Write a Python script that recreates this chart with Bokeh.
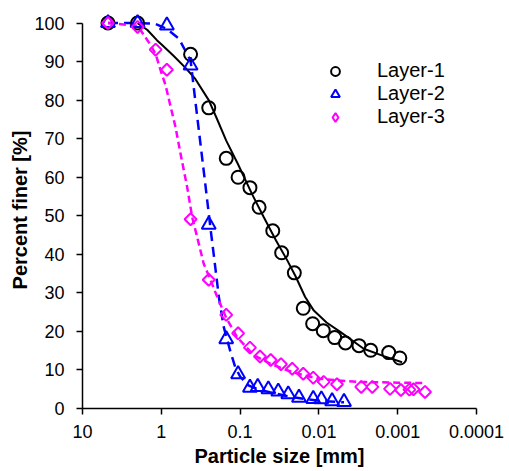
import numpy as np
from bokeh.plotting import figure
from bokeh.models import Range1d, FixedTicker, Legend, LegendItem
from bokeh.embed import file_html
from bokeh.resources import INLINE

# ---- measured data (particle size in mm, percent finer) ----
l1_size = [4.75, 2.0, 0.425, 0.25, 0.15, 0.106, 0.075, 0.0574, 0.0385, 0.0297, 0.0205,
           0.0158, 0.012, 0.0088, 0.0063, 0.0046, 0.0031, 0.0022, 0.0013, 0.00094]
l1_pf = [100, 100, 91.9, 78.0, 64.9, 60.0, 57.3, 52.2, 46.1, 40.4, 35.2,
         26.0, 22.0, 20.2, 18.4, 17.0, 16.3, 15.1, 14.5, 13.1]

l2_size = [4.75, 2.0, 0.85, 0.425, 0.25, 0.15, 0.106, 0.075, 0.0597, 0.0438, 0.0328,
           0.0245, 0.0179, 0.0118, 0.0093, 0.0068, 0.0048]
l2_pf = [100, 100, 99.4, 89.0, 47.7, 18.0, 8.9, 5.4, 5.6, 5.0, 4.4,
         3.7, 2.8, 2.5, 2.4, 1.9, 1.7]

l3_size = [4.75, 2.0, 1.18, 0.85, 0.425, 0.25, 0.15, 0.106, 0.075, 0.0559, 0.0409,
           0.0303, 0.0218, 0.0158, 0.0118, 0.0087, 0.0059, 0.0029, 0.0021, 0.00125,
           0.00091, 0.00071, 0.00063, 0.00045]
l3_pf = [100, 99.0, 93.1, 87.9, 49.1, 33.4, 24.3, 19.5, 15.8, 13.5, 12.6,
         11.5, 10.3, 9.0, 8.0, 6.9, 6.3, 5.6, 5.6, 5.1, 4.8, 4.9, 5.0, 4.3]

# ---- fitted curves ----
fit1_size = [2.0, 1.5, 1.13, 1.0, 0.7, 0.5, 0.37, 0.25, 0.2, 0.15, 0.107, 0.07, 0.05,
             0.035, 0.025, 0.02, 0.015, 0.0116, 0.008, 0.0053, 0.0027, 0.0015, 0.00088]
fit1_pf = [100, 98.2, 95.5, 94.5, 91.5, 88.5, 85.5, 80.0, 75.5, 69.5, 63.5, 55.5, 49.6,
           43.6, 38.3, 34.5, 29.0, 25.4, 22.3, 19.8, 15.5, 13.6, 12.0]

fit2_size = [4.75, 2.0, 1.2, 0.85, 0.6, 0.425, 0.368, 0.318, 0.275, 0.238, 0.205, 0.186,
             0.161, 0.132, 0.115, 0.1, 0.0785, 0.06, 0.042, 0.025, 0.0157, 0.01, 0.0048]
fit2_pf = [100, 100, 99.8, 98.5, 96.0, 90.3, 79.4, 68.6, 57.8, 46.9, 36.1, 28.9,
           21.1, 14.6, 10.7, 8.3, 6.0, 5.0, 4.2, 3.2, 2.5, 2.0, 1.6]

fit3_size = [4.75, 2.0, 1.44, 1.18, 1.02, 0.88, 0.76, 0.66, 0.57, 0.469, 0.405, 0.35,
             0.289, 0.25, 0.2, 0.15, 0.109, 0.067, 0.041, 0.0252, 0.0156, 0.00955,
             0.00586, 0.003, 0.001, 0.00045]
fit3_pf = [100, 99.3, 95.0, 92.0, 87.7, 83.8, 78.2, 73.0, 66.1, 57.4, 49.6, 44.4,
           37.5, 34.5, 29.5, 23.5, 18.5, 13.8, 11.6, 9.9, 8.6, 7.7,
           7.3, 6.9, 6.7, 6.6]

series_names = ["Layer-1", "Layer-2", "Layer-3"]
x_ticks = [10, 1, 0.1, 0.01, 0.001, 0.0001]
x_tick_labels = ["10", "1", "0.1", "0.01", "0.001", "0.0001"]
y_ticks = [0, 10, 20, 30, 40, 50, 60, 70, 80, 90, 100]

FONT = "Liberation Sans"

p = figure(width=508, height=470, x_axis_type="log",
           x_range=Range1d(10, 0.0001), y_range=Range1d(0, 103),
           output_backend="svg", toolbar_location=None,
           min_border_left=82, min_border_right=32, min_border_top=11, min_border_bottom=62)

p.outline_line_color = None
p.xgrid.visible = False
p.ygrid.visible = False
p.background_fill_color = "white"
p.border_fill_color = "white"

p.xaxis.ticker = FixedTicker(ticks=x_ticks)
p.xaxis.major_label_overrides = {t: lab for t, lab in zip(x_ticks, x_tick_labels)}
p.yaxis.ticker = FixedTicker(ticks=y_ticks)
p.yaxis.bounds = (0, 100)

for ax in (p.xaxis[0], p.yaxis[0]):
    ax.axis_line_width = 1.5
    ax.axis_line_color = "black"
    ax.major_tick_line_width = 1.5
    ax.major_tick_line_color = "black"
    ax.major_tick_out = 6
    ax.major_tick_in = 0
    ax.minor_tick_line_color = None
    ax.major_label_text_font = FONT
    ax.major_label_text_font_size = "18px"
    ax.major_label_text_color = "black"
    ax.axis_label_text_font = FONT
    ax.axis_label_text_font_style = "bold"
    ax.axis_label_text_font_size = "20px"
    ax.axis_label_text_color = "black"

p.xaxis.axis_label = "Particle size [mm]"
p.yaxis.axis_label = "Percent finer [%]"
p.xaxis.major_label_standoff = 10
p.xaxis.axis_label_standoff = 4
p.yaxis.major_label_standoff = 12
p.yaxis.axis_label_standoff = 0

# fitted curves
p.line(fit1_size, fit1_pf, line_color="black", line_width=2)
p.line(fit2_size, fit2_pf, line_color="#0000FF", line_width=2.5, line_dash="10 6")
p.line(fit3_size, fit3_pf, line_color="#FF00FF", line_width=2.5, line_dash="7 4")

# measured points
r1 = p.scatter(l1_size, l1_pf, marker="circle", size=13, fill_color=None,
               line_color="black", line_width=2)
r2 = p.scatter(l2_size, l2_pf, marker="triangle", size=14, fill_color=None,
               line_color="#0000FF", line_width=2)
r3 = p.scatter(l3_size, l3_pf, marker="square", angle=np.pi / 4, size=8.5, fill_color=None,
               line_color="#FF00FF", line_width=2)
# legend-only key glyph for Layer-3 (the legend does not rotate markers);
# its single point is NaN so nothing is drawn in the plot area
r3_key = p.scatter(np.array([np.nan]), np.array([np.nan]), marker="diamond", size=10,
                   fill_color=None, line_color="#FF00FF", line_width=2)

legend = Legend(items=[LegendItem(label=n, renderers=[r]) for n, r in zip(series_names, [r1, r2, r3_key])],
                location=(239, 280), glyph_width=28, glyph_height=22, label_height=22,
                spacing=0, padding=0, margin=0, label_standoff=28,
                border_line_color=None, background_fill_alpha=0,
                label_text_font=FONT, label_text_font_size="20px", label_text_color="black")
p.add_layout(legend)

open("out.html", "w").write(file_html(p, INLINE))
